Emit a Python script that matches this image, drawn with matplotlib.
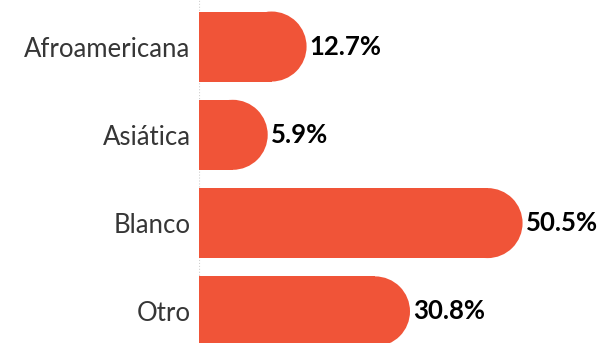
import matplotlib.pyplot as plt
from matplotlib.patches import Ellipse

# race / ethnicity shares (%)
categories = ['Afroamericana', 'Asiática', 'Blanco', 'Otro']
values = [12.7, 5.9, 50.5, 30.8]

bar_color = '#F05438'
label_color = '#363636'

W, H = 599, 343
fig = plt.figure(figsize=(W / 100, H / 100), dpi=100)
ax_left = 199
ax = fig.add_axes([ax_left / W, 0, (W - ax_left) / W, 1])

x_max = 70
ax.set_xlim(0, x_max)
ax.set_ylim(3.358, -0.527)

px_x = (W - ax_left) / x_max          # pixels per % on the x axis
px_y = H / (3.358 + 0.527)            # pixels per category step
bar_h_px = 70
bar_h = bar_h_px / px_y
cap_w = bar_h_px / px_x               # round end, same pixel size as the bar height

pos = list(range(len(categories)))
ax.barh(pos, values, height=bar_h, color=bar_color, linewidth=0, zorder=2)
for y, v in zip(pos, values):
    ax.add_patch(Ellipse((v, y), cap_w, bar_h, facecolor=bar_color,
                         edgecolor='none', zorder=2))
    ax.text(v + cap_w / 2 + 3 / px_x, y, f'{v}%', va='center', ha='left',
            fontsize=18.5, fontweight='bold', family='Lato', color='black')

ax.axvline(0, color='#D0D0D0', linestyle=':', linewidth=0.8, zorder=1)

ax.set_yticks(pos)
ax.set_yticklabels(categories, fontsize=18.5, family='Lato', color=label_color)
ax.tick_params(axis='y', length=0, pad=6)
ax.set_xticks([])
for s in ax.spines.values():
    s.set_visible(False)

fig.savefig('out.png', dpi=100)
